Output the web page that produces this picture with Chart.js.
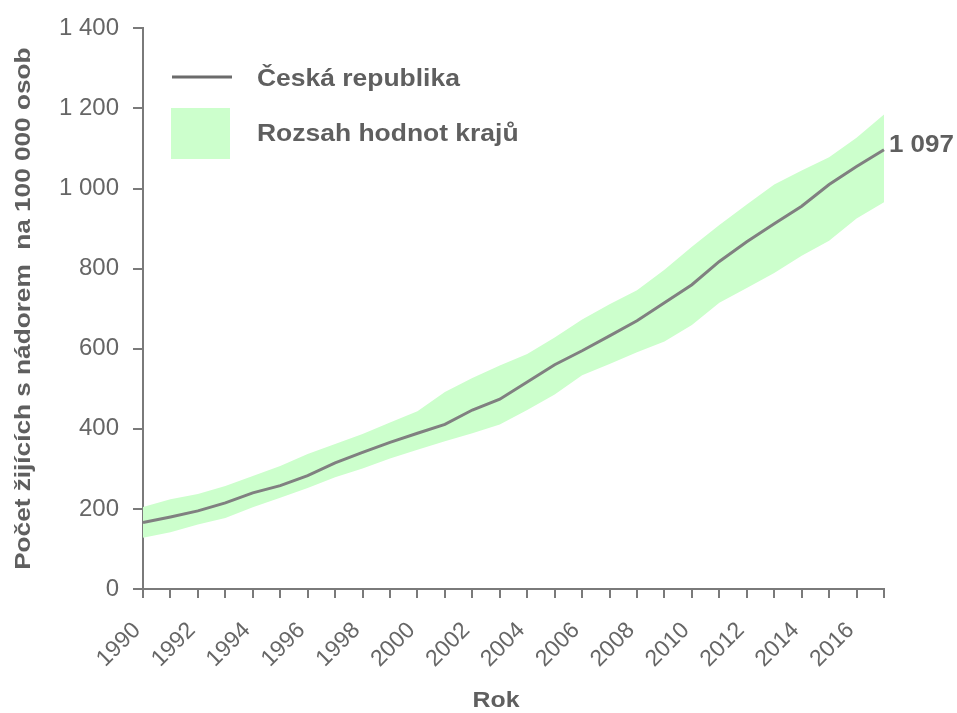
<!DOCTYPE html>
<html lang="cs">
<head>
    <meta charset="UTF-8" />
    <title>Počet žijících s nádorem</title>
    <style>
        body {
            margin: 0;
            padding: 0;
            background-color: #ffffff;
        }

        #wrap {
            width: 957px;
            height: 713px;
        }
    </style>
    <script src="https://cdn.jsdelivr.net/npm/chart.js"></script>
</head>
<body>
    <div id="wrap">
        <canvas id="prevChart"></canvas>
    </div>

    <script>
    // roky
    const years = [1990, 1991, 1992, 1993, 1994, 1995, 1996, 1997, 1998, 1999,
                   2000, 2001, 2002, 2003, 2004, 2005, 2006, 2007, 2008, 2009,
                   2010, 2011, 2012, 2013, 2014, 2015, 2016, 2017];
    // Česká republika
    const czValues = [166, 180, 195, 215, 240, 258, 283, 315, 341, 366,
                      389, 411, 447, 474, 517, 560, 595, 632, 670, 715,
                      760, 818, 867, 912, 956, 1010, 1055, 1097];
    // rozsah hodnot krajů - minimum a maximum
    const regionMin = [128, 142, 161, 177, 204, 228, 252, 279, 301, 326,
                       348, 369, 389, 411, 447, 486, 534, 562, 591, 618,
                       659, 715, 752, 789, 832, 870, 925, 966];
    const regionMax = [205, 224, 237, 257, 282, 307, 337, 362, 387, 416,
                       444, 492, 527, 558, 587, 628, 673, 711, 746, 797,
                       855, 909, 960, 1010, 1045, 1078, 1127, 1185];
    const yTicks = [0, 200, 400, 600, 800, 1000, 1200, 1400];

    const FONT = '"Liberation Sans", Arial, sans-serif';
    const TEXT = '#666666';
    const DARK = '#5f5f5f';
    const AXIS = '#7a7a7a';

    function fmt(v) {
      return String(v).replace(/\B(?=(\d{3})+(?!\d))/g, ' ');
    }

    // text trochu roztažený do šířky, jako v původním obrázku
    function wideText(ctx, txt, x, y, sx, align) {
      ctx.save();
      ctx.translate(x, y);
      ctx.scale(sx, 1);
      ctx.textAlign = align || 'left';
      ctx.fillText(txt, 0, 0);
      ctx.restore();
    }

    // legenda uvnitř grafu, názvy os, popisek poslední hodnoty
    const extras = {
      id: 'extras',
      afterDraw(chart) {
        const ctx = chart.ctx;
        const area = chart.chartArea;
        ctx.save();
        ctx.strokeStyle = '#6b6b6b';
        ctx.lineWidth = 3;
        ctx.beginPath();
        ctx.moveTo(172, 77);
        ctx.lineTo(232, 77);
        ctx.stroke();
        ctx.fillStyle = '#ccffcc';
        ctx.fillRect(171, 108, 59, 51);

        ctx.fillStyle = DARK;
        ctx.textBaseline = 'middle';
        ctx.font = 'bold 23px ' + FONT;
        wideText(ctx, 'Česká republika', 257, 80, 1.15);
        wideText(ctx, 'Rozsah hodnot krajů', 257, 135, 1.15);

        // Rok
        ctx.font = 'bold 22px ' + FONT;
        wideText(ctx, 'Rok', 496, 701, 1.13, 'center');

        // název osy y
        ctx.save();
        ctx.translate(24, (area.top + area.bottom) / 2);
        ctx.rotate(-Math.PI / 2);
        wideText(ctx, 'Počet žijících s nádorem  na 100 000 osob', 0, 0, 1.19, 'center');
        ctx.restore();

        const meta = chart.getDatasetMeta(0);
        const last = meta.data[meta.data.length - 1];
        ctx.font = 'bold 24px ' + FONT;
        wideText(ctx, fmt(czValues[czValues.length - 1]), last.x + 5, last.y - 4, 1.08);
        ctx.restore();
      }
    };

    new Chart(document.getElementById('prevChart'), {
      type: 'line',
      data: {
        labels: years,
        datasets: [{
          label: 'Česká republika',
          data: czValues,
          borderColor: '#808080',
          borderWidth: 3,
          pointRadius: 0,
          tension: 0,
          fill: false
        }, {
          label: 'min',
          data: regionMin,
          borderWidth: 0,
          borderColor: 'rgba(0,0,0,0)',
          pointRadius: 0,
          tension: 0,
          fill: false
        }, {
          label: 'Rozsah hodnot krajů',
          data: regionMax,
          borderWidth: 0,
          borderColor: 'rgba(0,0,0,0)',
          backgroundColor: '#ccffcc',
          pointRadius: 0,
          tension: 0,
          fill: '-1'
        }]
      },
      options: {
        responsive: true,
        maintainAspectRatio: false,
        animation: false,
        layout: { padding: { top: 23, right: 73, left: 0, bottom: 0 } },
        plugins: {
          legend: { display: false },
          tooltip: { enabled: false }
        },
        scales: {
          x: {
            type: 'category',
            offset: false,
            afterFit: s => { s.height = 124; },
            border: { color: AXIS, width: 2 },
            grid: { drawOnChartArea: false, tickLength: 9, color: AXIS, lineWidth: 2 },
            ticks: {
              autoSkip: false,
              minRotation: 45,
              maxRotation: 45,
              padding: 19,
              labelOffset: -6,
              color: TEXT,
              font: { family: FONT, size: 23 },
              callback: function (value, index) {
                const y = years[index];
                return y % 2 === 0 ? String(y) : '';
              }
            }
          },
          y: {
            min: 0,
            max: 1400,
            afterFit: s => { s.width = 143; },
            afterBuildTicks: s => { s.ticks = yTicks.map(v => ({ value: v })); },
            border: { color: AXIS, width: 2 },
            grid: { drawOnChartArea: false, tickLength: 10, color: AXIS, lineWidth: 2 },
            ticks: {
              padding: 14,
              color: TEXT,
              font: { family: FONT, size: 24 },
              callback: v => fmt(v)
            }
          }
        }
      },
      plugins: [extras]
    });
    </script>
</body>
</html>
